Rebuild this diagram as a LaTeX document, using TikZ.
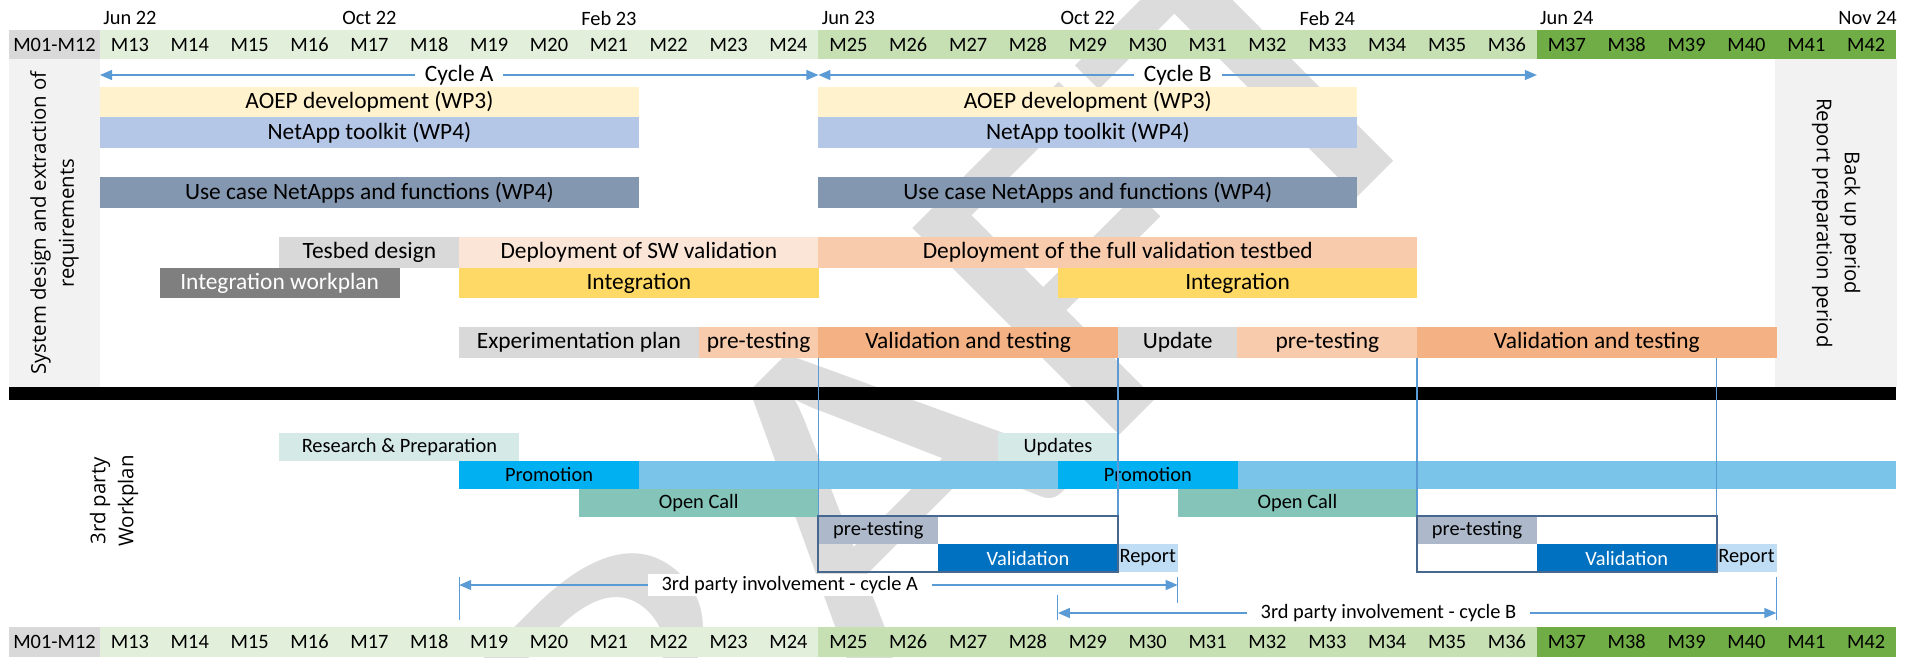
\documentclass[tikz,border=0pt]{standalone}
\usepackage{graphicx}
\usepackage{fontspec}
\setmainfont{Carlito}
\newfontfamily\sidefont{Open Sans}
\usetikzlibrary{arrows.meta}

% palette
\definecolor{hdrGray}{HTML}{D9D9D9}
\definecolor{hdrA}{HTML}{E2EFDA}
\definecolor{hdrB}{HTML}{C6E0B4}
\definecolor{hdrC}{HTML}{70AD47}
\definecolor{panel}{HTML}{F2F2F2}
\definecolor{cAOEP}{HTML}{FFF2CC}
\definecolor{cNet}{HTML}{B4C7E7}
\definecolor{cUC}{HTML}{8497B0}
\definecolor{cGray}{HTML}{D9D9D9}
\definecolor{cDepA}{HTML}{FBE5D6}
\definecolor{cDepB}{HTML}{F8CBAD}
\definecolor{cIntWP}{HTML}{7F7F7F}
\definecolor{cInt}{HTML}{FFD966}
\definecolor{cVal}{HTML}{F4B183}
\definecolor{cRes}{HTML}{D5E9E6}
\definecolor{cLB}{HTML}{7AC3E9}
\definecolor{cProm}{HTML}{00B0F0}
\definecolor{cOC}{HTML}{84C4B9}
\definecolor{cPT}{HTML}{ADB9CA}
\definecolor{cV}{HTML}{0070C0}
\definecolor{cRep}{HTML}{BFDDF4}
\definecolor{cOutl}{HTML}{47678F}
\definecolor{cLine}{HTML}{5B9BD5}
\definecolor{wmGray}{HTML}{DCDCDC}

\newcommand\topfont{\fontsize{23.4pt}{28pt}\selectfont}
\newcommand\lowfont{\fontsize{20.4pt}{24pt}\selectfont}
\newcommand\hdrfont{\fontsize{20.4pt}{24pt}\selectfont}
\newcommand\sidetext{\sidefont\fontsize{20.4pt}{28pt}\selectfont}
\newcommand\wmfont{\fontsize{456pt}{456pt}\selectfont}

% x position of the start of month #1 (M13 starts at 100)
\pgfmathdeclarefunction{mx}{1}{\pgfmathparse{100+(#1-13)*59.87}}

% bar: name, style, first month, month after last, top, bottom, text
\newcommand\ganttbox[7]{%
  \node[#2, minimum width={(#4-#3)*59.87pt+0.3pt}, minimum height={(#6-#5)*1pt}]
    (#1) at ({mx((#3+#4)/2)}, {(#5+#6)/2}) {#7};}

\tikzset{
  gbox/.style={inner sep=0pt, outer sep=0pt, draw=none, text=black, align=center},
  tb/.style={gbox, font=\topfont},
  lb/.style={gbox, font=\lowfont},
  hcell/.style={gbox, font=\hdrfont, minimum height=29.5pt, minimum width=60.2pt},
  datelabel/.style={inner sep=0pt, font=\hdrfont, text=black},
  cyc/.style={draw=cLine, line width=1.3pt,
    {Triangle[length=12pt,width=10pt]}-{Triangle[length=12pt,width=10pt]}},
  cyclabel/.style={fill=white, inner xsep=14pt, inner ysep=2pt, text=black},
  vline/.style={draw=cLine, line width=1.1pt},
  outl/.style={draw=cOutl, line width=1.8pt},
  sidebox/.style={fill=panel, draw=none, inner sep=0pt, outer sep=0pt},
  sidelabel/.style={font=\sidetext, align=center, inner sep=0pt, text=black},
}

\begin{document}
\begin{tikzpicture}[x=1pt, y=-1pt]
\useasboundingbox (0,0) rectangle (1921,657);
\fill[white] (0,0) rectangle (1921,657);

% watermark behind the chart
\node[rotate=45, anchor=base west, inner sep=0pt, text=wmGray, font=\wmfont]
  (wm) at (392,1163) {\scalebox{1.25}[1]{DRAFT}};

% side panels
\node[sidebox, minimum width=91pt, minimum height=328pt] (sysPanel) at (54.5,223) {};
\node[sidebox, minimum width=122pt, minimum height=328pt] (bkPanel) at ({(mx(41)+1896)/2},223) {};

% month header rows
\node[hcell, fill=hdrGray, minimum width=91pt] (top0) at (54.5,44.5) {M01-M12};
\node[hcell, fill=hdrGray, minimum width=91pt, minimum height=30pt] (bot0) at (54.5,642) {M01-M12};
\foreach \m in {13,...,42} {
  \pgfmathsetmacro\hx{mx(\m+0.5)}
  \ifnum\m<25 \def\hc{hdrA}\else\ifnum\m<37 \def\hc{hdrB}\else\def\hc{hdrC}\fi\fi
  \node[hcell, fill=\hc] (top\m) at (\hx,44.5) {M\m};
  \node[hcell, fill=\hc, minimum height=30pt] (bot\m) at (\hx,642) {M\m};
}

% dates above the header
\node[datelabel] (dJun22) at ({mx(13.5)},18) {Jun 22};
\node[datelabel] (dOct22) at ({mx(17.5)},18) {Oct 22};
\node[datelabel] (dFeb23) at ({mx(21.5)},18) {Feb 23};
\node[datelabel] (dJun23) at ({mx(25.5)},18) {Jun 23};
\node[datelabel] (dOct22b) at ({mx(29.5)},18) {Oct 22};
\node[datelabel] (dFeb24) at ({mx(33.5)},18) {Feb 24};
\node[datelabel] (dJun24) at ({mx(37.5)},18) {Jun 24};
\node[datelabel, anchor=east] (dNov24) at (1897,18) {Nov 24};

% development work packages
\ganttbox{aoepA}{tb, fill=cAOEP}{13}{22}{87}{117}{AOEP development (WP3)}
\ganttbox{aoepB}{tb, fill=cAOEP}{25}{34}{87}{117}{AOEP development (WP3)}
\ganttbox{netA}{tb, fill=cNet}{13}{22}{117}{148}{NetApp toolkit (WP4)}
\ganttbox{netB}{tb, fill=cNet}{25}{34}{117}{148}{NetApp toolkit (WP4)}
\ganttbox{ucA}{tb, fill=cUC}{13}{22}{177}{208}{Use case NetApps and functions (WP4)}
\ganttbox{ucB}{tb, fill=cUC}{25}{34}{177}{208}{Use case NetApps and functions (WP4)}

% testbed and integration
\ganttbox{tesbed}{tb, fill=cGray}{16}{19}{237}{268}{Tesbed design}
\ganttbox{depSW}{tb, fill=cDepA}{19}{25}{237}{268}{Deployment of SW validation}
\ganttbox{depFull}{tb, fill=cDepB}{25}{35}{237}{268}{Deployment of the full validation testbed}
\ganttbox{intWP}{tb, fill=cIntWP, text=white}{14}{18}{268}{298}{Integration workplan}
\ganttbox{intA}{tb, fill=cInt}{19}{25}{268}{298}{Integration}
\ganttbox{intB}{tb, fill=cInt}{29}{35}{268}{298}{Integration}

% experimentation
\ganttbox{expPlan}{tb, fill=cGray}{19}{23}{327}{358}{Experimentation plan}
\ganttbox{preA}{tb, fill=cDepB}{23}{25}{327}{358}{pre-testing}
\ganttbox{valA}{tb, fill=cVal}{25}{30}{327}{358}{Validation and testing}
\ganttbox{update}{tb, fill=cGray}{30}{32}{327}{358}{Update}
\ganttbox{preB}{tb, fill=cDepB}{32}{35}{327}{358}{pre-testing}
\ganttbox{valB}{tb, fill=cVal}{35}{41}{327}{358}{Validation and testing}

% third party workplan
\ganttbox{resA}{lb, fill=cRes}{16}{20}{433}{461}{Research \& Preparation}
\ganttbox{updB}{lb, fill=cRes}{28}{30}{433}{461}{Updates}
\ganttbox{promBar}{lb, fill=cLB}{19}{43}{461}{489}{}
\ganttbox{promA}{lb, fill=cProm}{19}{22}{461}{489}{Promotion}
\ganttbox{promB}{lb, fill=cProm}{29}{32}{461}{489}{Promotion}
\ganttbox{ocA}{lb, fill=cOC}{21}{25}{489}{517}{Open Call}
\ganttbox{ocB}{lb, fill=cOC}{31}{35}{489}{517}{Open Call}
\ganttbox{ptA}{lb, fill=cPT}{25}{27}{516}{544}{pre-testing}
\ganttbox{vA}{lb, fill=cV, text=white}{27}{30}{544}{572}{Validation}
\ganttbox{rA}{lb, fill=cRep}{30}{31}{544}{572}{Report}
\ganttbox{ptB}{lb, fill=cPT}{35}{37}{516}{544}{pre-testing}
\ganttbox{vB}{lb, fill=cV, text=white}{37}{40}{544}{572}{Validation}
\ganttbox{rB}{lb, fill=cRep}{40}{41}{544}{572}{Report}

% separator between the two parts
\node[fill=black, inner sep=0pt, minimum width=1887pt, minimum height=13pt] (sep) at (952.5,393.5) {};

% links from the validation phases to the third party tests
\draw[vline] (valA.south west) -- (ptA.north west);
\draw[vline] (valA.south east) -- (valA.south east |- ptA.north);
\draw[vline] (valB.south west) -- (ptB.north west);
\draw[vline] (vB.south east |- valB.south) -- (vB.south east |- ptB.north);
\draw[outl] (ptA.north west) rectangle (vA.south east);
\draw[outl] (ptB.north west) rectangle (vB.south east);

% cycles
\coordinate (cA0) at ({mx(13)},75);
\coordinate (cA1) at ({mx(25)},75);
\coordinate (cB0) at ({mx(25)},75);
\coordinate (cB1) at ({mx(37)},75);
\draw[cyc] (cA0) -- (cA1) node[cyclabel, pos=0.5, font=\topfont, inner xsep=10pt] (cycA) {Cycle A};
\draw[cyc] (cB0) -- (cB1) node[cyclabel, pos=0.5, font=\topfont, inner xsep=10pt] (cycB) {Cycle B};

% third party involvement periods
\coordinate (pA0) at ({mx(19)},585);
\coordinate (pA1) at ({mx(31)},585);
\coordinate (pB0) at ({mx(29)},613);
\coordinate (pB1) at ({mx(41)},613);
\draw[vline] (pA0 |- 0,577) -- (pA0 |- 0,620);
\draw[vline] (pA1 |- 0,577) -- (pA1 |- 0,603);
\draw[vline] (pB0 |- 0,595) -- (pB0 |- 0,620);
\draw[vline] (pB1 |- 0,577) -- (pB1 |- 0,620);
\draw[cyc] (pA0) -- (pA1) node[cyclabel, pos=0.46, font=\lowfont] (invA) {3rd party involvement - cycle A};
\draw[cyc] (pB0) -- (pB1) node[cyclabel, pos=0.46, font=\lowfont] (invB) {3rd party involvement - cycle B};

% rotated panel titles
\node[sidelabel, rotate=90] (sysTxt) at (sysPanel.center) {System design and extraction of\\requirements};
\node[sidelabel, rotate=-90] (bkTxt) at (bkPanel.center) {Back up period\\Report preparation period};
\node[sidelabel, rotate=90] (tpTxt) at (114,501) {3rd party\\Workplan};
\end{tikzpicture}
\end{document}
